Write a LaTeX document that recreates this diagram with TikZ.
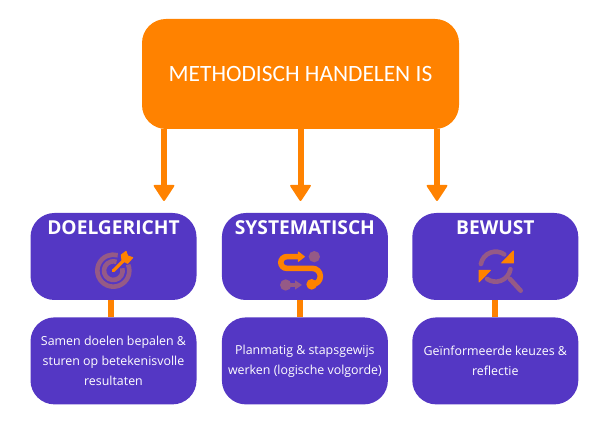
\documentclass[tikz,border=0pt]{standalone}
\usepackage{fontspec}
\setmainfont{Open Sans}
\newfontfamily\headfont{Carlito}
\usetikzlibrary{positioning,arrows.meta,calc}
\definecolor{orangeb}{HTML}{FF8200}
\definecolor{purpleb}{HTML}{5437C4}
\definecolor{mutedb}{HTML}{955A86}

\begin{document}
\begin{tikzpicture}[x=1pt, y=1pt, >=Latex,
  card/.style={fill=purpleb, rounded corners=24pt, minimum width=166pt, minimum height=87pt, inner sep=0pt},
  cardtext/.style={text=white, align=center, font=\fontsize{12.4}{20.2}\selectfont},
  cardtitle/.style={text=white, inner sep=0pt, font=\fontsize{19.2}{22}\selectfont\bfseries},
  flow/.style={draw=orangeb, line width=6pt, -{Triangle[width=22pt, length=17pt, line width=2pt, round]}},
  link/.style={draw=orangeb, line width=6pt},
  iconmuted/.style={draw=mutedb, line width=4.6pt, line cap=round},
  iconorange/.style={draw=orangeb, fill=orangeb, line width=1pt, line join=round}]
  \useasboundingbox (0,0) rectangle (609,427);

  \node[fill=orangeb, rounded corners=24pt, minimum width=317pt, minimum height=110pt, text=white,
    font=\headfont\fontsize{23.4}{26}\selectfont] (top) at (300.5,353) {\raisebox{-1pt}{METHODISCH HANDELEN IS}};

  % upper row
  \node[card] (goal) at (113.5,170.5) {};
  \node[card, right=25pt of goal] (plan) {};
  \node[card, right=24pt of plan] (aware) {};
  \node[cardtitle, below=8pt of goal.north] (goaltitle) {DOELGERICHT};
  \node[cardtitle, below=8pt of plan.north] (plantitle) {SYSTEMATISCH};
  \node[cardtitle, below=8pt of aware.north] (awaretitle) {BEWUST};

  % lower row
  \node[card, cardtext, below=17pt of goal] (goaltext) {Samen doelen bepalen \&\\sturen op betekenisvolle\\resultaten};
  \node[card, cardtext, below=17pt of plan] (plantext) {Planmatig \& stapsgewijs\\werken (logische volgorde)};
  \node[card, cardtext, below=17pt of aware] (awaretext) {Geïnformeerde keuzes \&\\reflectie};

  \coordinate (arrowa) at (164,226);
  \coordinate (arrowb) at (300.5,226);
  \coordinate (arrowc) at (437,226);
  \draw[flow] (arrowa |- top.south) -- (arrowa);
  \draw[flow] (top.south) -- (arrowb);
  \draw[flow] (arrowc |- top.south) -- (arrowc);

  \draw[link] ($(goal.south)+(-3,0)$) -- ($(goaltext.north)+(-3,0)$);
  \draw[link] ($(plan.south)+(-4.5,0)$) -- ($(plantext.north)+(-4.5,0)$);
  \draw[link] (aware.south) -- (awaretext.north);

  % target
  \begin{scope}[shift={(20,222)}, xscale=1/3, yscale=-1/3]
    \draw[iconmuted, line cap=butt] (280,197) ++(-22:48) arc[start angle=-22, end angle=286, radius=48];
    \draw[iconmuted, line cap=butt] (280,197) ++(-15:28) arc[start angle=-15, end angle=290, radius=28];
    \draw[draw=orangeb, line width=3.2pt, line cap=round] (280,197) -- (318,160);
    \fill[iconorange] (304,150) -- (318,139) -- (323,153) -- (338,158) -- (323,175) -- (306,166) -- cycle;
  \end{scope}

  % path
  \begin{scope}[shift={(215,222)}, xscale=1/3, yscale=-1/3]
    \fill[mutedb] (298,155) circle[radius=17];
    \fill[mutedb] (212,240) circle[radius=17];
    \draw[draw=mutedb, line width=4pt] (225,240) -- (245,240);
    \fill[mutedb] (240,226) -- (261,240) -- (240,254) -- cycle;
    \draw[draw=orangeb, line width=5.6pt] (250,155) -- (215,155)
      arc[start angle=-90, end angle=-270, radius=17.5] -- (292,190)
      arc[start angle=-90, end angle=90, radius=24];
    \fill[iconorange] (250,141) -- (268,155) -- (250,169) -- cycle;
    \fill[orangeb] (290,238) circle[radius=16];
  \end{scope}

  % search
  \begin{scope}[shift={(405,222)}, xscale=1/3, yscale=-1/3]
    \draw[iconmuted] (272,185) ++(190:45) arc[start angle=190, end angle=305, radius=45];
    \draw[iconmuted] (272,185) ++(10:45) arc[start angle=10, end angle=125, radius=45];
    \draw[iconmuted] (315,222) -- (347,257);
    \fill[iconorange] (290,174) -- (325,138) -- (325,174) -- cycle;
    \fill[iconorange] (222,196) -- (256,196) -- (222,231) -- cycle;
  \end{scope}
\end{tikzpicture}
\end{document}
